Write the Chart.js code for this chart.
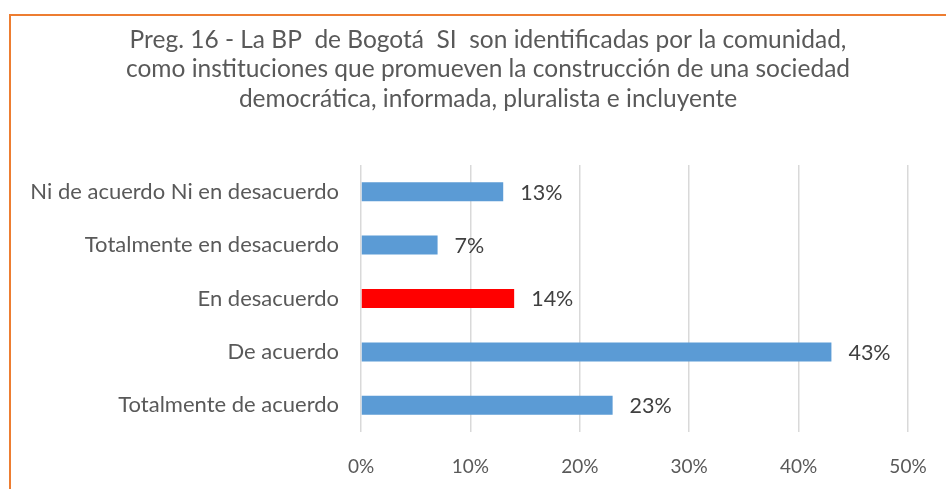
<!DOCTYPE html>
<html>
<head>
<meta charset="utf-8">
<script src="https://cdn.jsdelivr.net/npm/chart.js@4"></script>
<style>
html,body{margin:0;padding:0;background:#fff;}
#wrap{position:relative;width:946px;height:489px;}
</style>
</head>
<body>
<div id="wrap"><canvas id="c" width="946" height="489"></canvas></div>
<script>
const titleLines = [
  "Preg. 16 - La BP  de Bogotá  SI  son identificadas por la comunidad,",
  "como instituciones que promueven la construcción de una sociedad",
  "democrática, informada, pluralista e incluyente"
];
const categories = [
  "Ni de acuerdo Ni en desacuerdo",
  "Totalmente en desacuerdo",
  "En desacuerdo",
  "De acuerdo",
  "Totalmente de acuerdo"
];
const values = [13, 7, 14, 43, 23];
const barColors = ["#5B9BD5", "#5B9BD5", "#FF0000", "#5B9BD5", "#5B9BD5"];
const xTicks = [0, 10, 20, 30, 40, 50];

const FONT = "Lato, 'Liberation Sans', sans-serif";

const framePlugin = {
  id: 'frame',
  beforeDraw(chart) {
    const ctx = chart.ctx;
    ctx.save();
    ctx.fillStyle = '#fff';
    ctx.fillRect(0, 0, chart.width, chart.height);
    ctx.strokeStyle = '#ED7D31';
    ctx.lineWidth = 2;
    ctx.strokeRect(10, 15, 2000, 2000);
    ctx.restore();
  }
};

const titlePlugin = {
  id: 'customTitle',
  afterDraw(chart) {
    const ctx = chart.ctx;
    ctx.save();
    ctx.font = "24.5px " + FONT;
    ctx.fillStyle = '#595959';
    ctx.textAlign = 'center';
    ctx.textBaseline = 'middle';
    titleLines.forEach((t, i) => ctx.fillText(t, 488, 40 + i * 29.5));
    ctx.restore();
  }
};

const labelPlugin = {
  id: 'barLabels',
  afterDatasetsDraw(chart) {
    const ctx = chart.ctx;
    const meta = chart.getDatasetMeta(0);
    ctx.save();
    ctx.font = "21.5px " + FONT;
    ctx.fillStyle = '#404040';
    ctx.textAlign = 'left';
    ctx.textBaseline = 'middle';
    meta.data.forEach((bar, i) => {
      ctx.fillText(values[i] + '%', bar.x + 17, bar.y + 1);
    });
    ctx.restore();
  }
};

new Chart(document.getElementById('c'), {
  type: 'bar',
  data: {
    labels: categories,
    datasets: [{
      data: values,
      backgroundColor: barColors,
      borderWidth: 0,
      barPercentage: 0.71,
      categoryPercentage: 0.5
    }]
  },
  options: {
    indexAxis: 'y',
    responsive: false,
    animation: false,
    layout: { padding: { left: 0, right: 38, top: 165, bottom: 10 } },
    plugins: { legend: { display: false }, tooltip: { enabled: false }, title: { display: false } },
    scales: {
      x: {
        min: 0, max: 50,
        afterBuildTicks(scale) { scale.ticks = xTicks.map(v => ({ value: v })); },
        afterFit(scale) { scale.height = 47; scale.paddingRight = 0; scale.paddingLeft = 0; },
        ticks: {
          callback: v => v + '%',
          color: '#595959',
          font: { family: FONT, size: 19 },
          padding: 23,
          maxRotation: 0
        },
        grid: { color: '#D9D9D9', lineWidth: 1.5, drawTicks: false },
        border: { display: false }
      },
      y: {
        afterFit(scale) { scale.width = 361; },
        ticks: {
          color: '#595959',
          font: { family: FONT, size: 22 },
          padding: 22
        },
        grid: { display: false, drawTicks: false },
        border: { display: false }
      }
    }
  },
  plugins: [framePlugin, titlePlugin, labelPlugin]
});
</script>
</body>
</html>
